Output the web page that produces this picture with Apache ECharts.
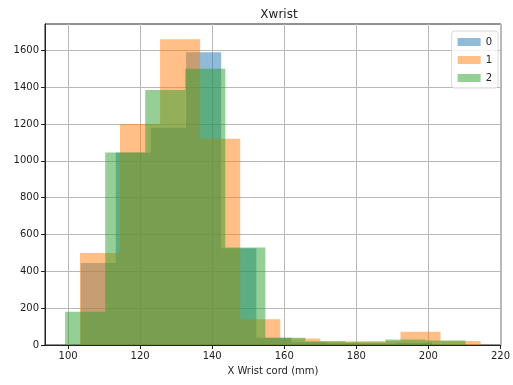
<!DOCTYPE html>
<html>
<head>
<meta charset="utf-8">
<script src="https://cdn.jsdelivr.net/npm/echarts@6/dist/echarts.min.js"></script>
<style>
  html, body { margin: 0; padding: 0; background: #fff; }
  #chart { width: 513px; height: 385px; }
</style>
</head>
<body>
<div id="chart"></div>
<script>
// Histogram of X wrist coordinate for three classes (bin edges + counts)
var seriesNames = ['0', '1', '2'];

var edges0 = [103.5, 113.25, 123.0, 132.75, 142.5, 152.25, 162.0, 171.75, 181.5, 191.25, 201.0];
var counts0 = [445, 1045, 1180, 1590, 525, 40, 15, 10, 8, 12];

var edges1 = [103.3, 114.42, 125.54, 136.66, 147.78, 158.9, 170.02, 181.14, 192.26, 203.38, 214.5];
var counts1 = [500, 1200, 1660, 1120, 140, 35, 20, 22, 72, 22];

var edges2 = [99.2, 110.31, 121.42, 132.53, 143.64, 154.75, 165.86, 176.97, 188.08, 199.19, 210.3];
var counts2 = [180, 1045, 1385, 1500, 530, 40, 20, 15, 30, 25];

var xTicks = [100, 120, 140, 160, 180, 200, 220];
var yTicks = [0, 200, 400, 600, 800, 1000, 1200, 1400, 1600];

var colors = ['rgba(31,119,180,0.5)', 'rgba(255,127,14,0.5)', 'rgba(44,160,44,0.5)'];

function toBins(edges, counts) {
  var out = [];
  for (var i = 0; i < counts.length; i++) {
    out.push([edges[i], edges[i + 1], counts[i]]);
  }
  return out;
}

function renderBin(params, api) {
  var p0 = api.coord([api.value(0), api.value(2)]);
  var p1 = api.coord([api.value(1), 0]);
  return {
    type: 'rect',
    shape: { x: p0[0], y: p0[1], width: p1[0] - p0[0], height: p1[1] - p0[1] },
    style: { fill: api.visual('color') }
  };
}

// vertical grid lines at the x tick values
function renderVGrid(params, api) {
  var top = api.coord([api.value(0), 1743]);
  var bot = api.coord([api.value(0), 0]);
  return {
    type: 'line',
    shape: { x1: Math.round(top[0]) + 0.5, y1: top[1], x2: Math.round(bot[0]) + 0.5, y2: bot[1] },
    style: { stroke: '#b8b8b8', lineWidth: 1 },
    z2: 0
  };
}

var allBins = [toBins(edges0, counts0), toBins(edges1, counts1), toBins(edges2, counts2)];

var series = [{
  type: 'custom',
  name: '_grid',
  renderItem: renderVGrid,
  data: xTicks.map(function (v) { return [v]; }),
  encode: { x: 0 },
  silent: true,
  z: 0
}];
seriesNames.forEach(function (name, i) {
  series.push({
    type: 'custom',
    name: name,
    renderItem: renderBin,
    data: allBins[i],
    encode: { x: [0, 1], y: 2 },
    itemStyle: { color: colors[i] },
    z: 2 + i
  });
});

var font = 'DejaVu Sans';
var chart = echarts.init(document.getElementById('chart'), null, { renderer: 'canvas' });
chart.setOption({
  animation: false,
  backgroundColor: '#fff',
  title: {
    text: 'Xwrist',
    left: 274, top: 4, textAlign: 'center',
    textStyle: { fontFamily: font, fontSize: 12, fontWeight: 'normal', color: '#222' }
  },
  legend: {
    data: seriesNames,
    orient: 'vertical',
    right: 15, top: 31,
    itemWidth: 23, itemHeight: 8, itemGap: 8,
    icon: 'rect',
    padding: [6, 6, 5, 6],
    backgroundColor: 'rgba(255,255,255,0.8)',
    borderColor: '#d8d8d8', borderWidth: 1, borderRadius: 3,
    textStyle: { fontFamily: font, fontSize: 10, color: '#222' }
  },
  grid: { left: 45, right: 10, top: 24, bottom: 40, containLabel: false, show: true, borderColor: '#222', borderWidth: 1 },
  xAxis: {
    type: 'value',
    min: 93.6, max: 220.1,
    name: 'X Wrist cord (mm)', nameLocation: 'middle', nameGap: 21,
    nameTextStyle: { fontFamily: font, fontSize: 10, color: '#222' },
    axisLine: { show: true, lineStyle: { color: '#222' } },
    axisTick: { show: true, length: 4, inside: false, customValues: xTicks, lineStyle: { color: '#222' } },
    axisLabel: {
      customValues: xTicks, fontFamily: font, fontSize: 10, color: '#222', margin: 6,
      formatter: function (v) { return String(v); }
    },
    splitLine: { show: false }
  },
  yAxis: {
    type: 'value',
    min: 0, max: 1743, interval: 200,
    axisLine: { show: true, lineStyle: { color: '#222' } },
    axisTick: { show: true, length: 4, customValues: yTicks, lineStyle: { color: '#222' } },
    axisLabel: {
      customValues: yTicks, fontFamily: font, fontSize: 10, color: '#222', margin: 6,
      formatter: function (v) { return String(v); }
    },
    splitLine: { show: true, lineStyle: { color: '#b8b8b8', width: 1 } }
  },
  series: series
});
</script>
</body>
</html>
